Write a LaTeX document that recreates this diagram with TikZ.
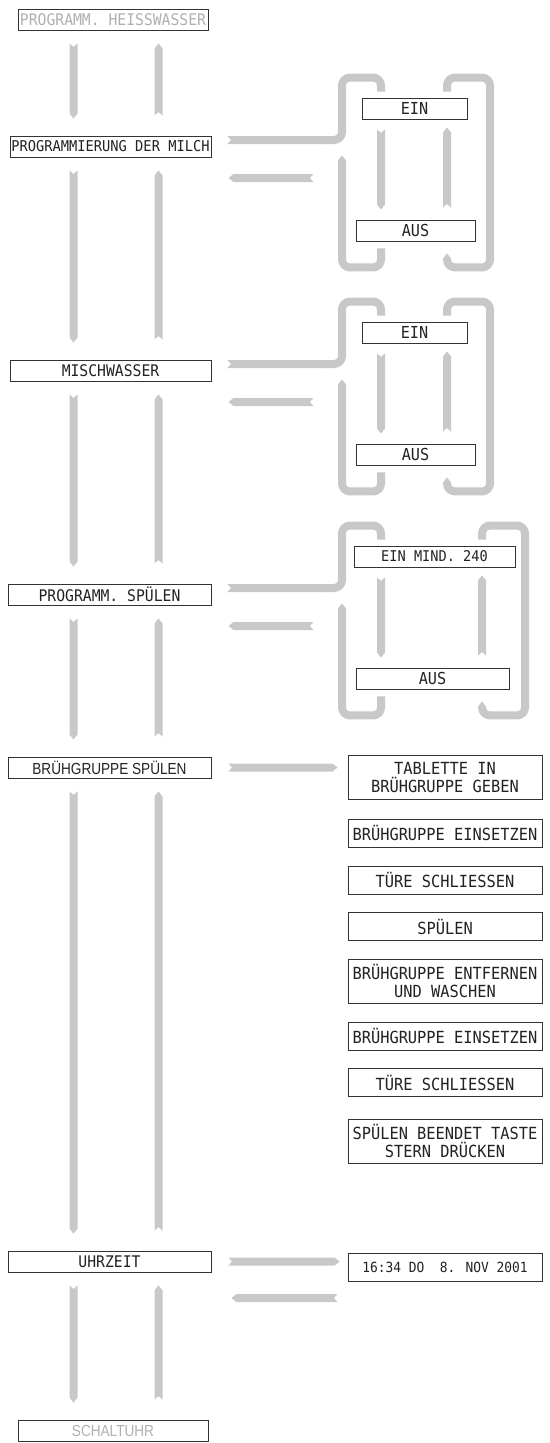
\documentclass[tikz,border=0pt]{standalone}
\usepackage{fontspec}
\newfontfamily\monof[FakeStretch=0.92]{DejaVu Sans Mono}
\newfontfamily\propf[FakeStretch=0.85]{Liberation Sans}
\usetikzlibrary{calc}
\definecolor{bandcol}{HTML}{C8C8C8}
\definecolor{txt}{HTML}{222222}
\definecolor{dimtxt}{HTML}{B0B0B0}
\definecolor{boxline}{HTML}{333333}
\tikzset{
 box/.style={draw=boxline, line width=0.9pt, fill=white, inner sep=0pt, align=center, text=txt},
 menubox/.style={box, minimum height=21pt, font=\monof\fontsize{16}{18.5}\selectfont},
 optbox/.style={box, minimum height=21pt, font=\monof\fontsize{16.5}{18.5}\selectfont},
 stepbox/.style={box, minimum width=194pt, minimum height=28pt, font=\monof\fontsize{16.7}{18.5}\selectfont},
 band/.style={draw=bandcol, line width=8pt, line cap=butt, line join=round, rounded corners=8pt},
}
% ribbon connector: #1 tail, #2 head (both given with parentheses), #3 tail type (n notch / f flat), #4 head type (p point / f flat)
\newcommand\ribbon[4]{%
  \path let \p1=#1, \p2=#2 in \pgfextra{%
    \pgfmathsetmacro\ribA{atan2((\y2)-(\y1),(\x2)-(\x1))}%
    \pgfmathsetmacro\ribL{veclen((\x2)-(\x1),(\y2)-(\y1))}%
    \xdef\ribA{\ribA}\xdef\ribL{\ribL}\xdef\ribX{\x1}\xdef\ribY{\y1}};%
  \if#3n\def\ribT{(0pt,4pt) -- (3.5pt,0pt) -- (0pt,-4pt)}\else\def\ribT{(0pt,4pt) -- (0pt,-4pt)}\fi
  \if#4p\def\ribH{-- (\ribL pt-5pt,-4pt) -- (\ribL pt,0pt) -- (\ribL pt-5pt,4pt) -- cycle}\else\def\ribH{-- (\ribL pt,-4pt) -- (\ribL pt,4pt) -- cycle}\fi
  \fill[bandcol, shift={(\ribX,\ribY)}, rotate=\ribA] \ribT \ribH;%
}
% column segment between two menu nodes
\newcommand\colseg[2]{%
  \ribbon{($(colL |- #1.south)+(0,13)$)}{($(colL |- #2.north)+(0,-17)$)}{n}{p}%
  \ribbon{($(colR |- #2.north)+(0,-20)$)}{($(colR |- #1.south)+(0,13)$)}{n}{p}%
}
% sub-panel: #1 source, #2 upper option, #3 lower option, #4 inner right x, #5 outer right x
\newcommand\subpanel[5]{%
  \ribbon{($(#1.east)+(16,-6.5)$)}{($(#1.east)+(110,-6.5)$)}{n}{f}%
  \draw[band] ($(#1.east)+(109,-6.5)$) -- ($(xL |- #1.east)+(0,-6.5)$) -- ($(xL |- #2.north)+(0,-20)$) -- ($(xIL |- #2.north)+(0,-20)$) -- ($(xIL |- #2.north)+(0,-6)$);%
  \draw[band] ($(#4 |- #2.north)+(0,-6)$) -- ($(#4 |- #2.north)+(0,-20)$) -- ($(#5 |- #2.north)+(0,-20)$) -- ($(#5 |- #3.south)+(0,26)$) -- ($(#4 |- #3.south)+(0,26)$) -- ($(#4 |- #3.south)+(0,17)$);%
  \ribbon{($(#4 |- #3.south)+(0,17.5)$)}{($(#4 |- #3.south)+(0,12)$)}{f}{p}%
  \draw[band] ($(xIL |- #3.south)+(0,7)$) -- ($(xIL |- #3.south)+(0,26)$) -- ($(xL |- #3.south)+(0,26)$) -- ($(xL |- #1.south)+(0,3)$);%
  \ribbon{($(xL |- #1.south)+(0,3.5)$)}{($(xL |- #1.south)+(0,-2)$)}{f}{p}%
  \ribbon{($(xIL |- #2.south)+(0,10)$)}{($(xIL |- #3.north)+(0,-10)$)}{n}{p}%
  \ribbon{($(#4 |- #3.north)+(0,-12)$)}{($(#4 |- #2.south)+(0,8)$)}{n}{p}%
  \ribbon{($(#1.east)+(102,31.5)$)}{($(#1.east)+(17,31.5)$)}{n}{p}%
}
\begin{document}
\begin{tikzpicture}[x=1pt,y=-1pt]
\useasboundingbox (0,0) rectangle (549,1443);
\coordinate (colL) at (73.5,0);
\coordinate (colR) at (158.5,0);
\coordinate (xL) at (342,0);
\coordinate (xIL) at (381,0);
\coordinate (xIR) at (447,0);
\coordinate (xOR) at (490,0);
\coordinate (xIRc) at (482,0);
\coordinate (xORc) at (525,0);

% main menu column
\node[menubox, minimum width=190pt, text=dimtxt] (heiss) at (113,19.5) {PROGRAMM. HEISSWASSER};
\node[menubox, minimum width=201pt, font=\monof\fontsize{14.9}{18.5}\selectfont] (milch) at (110.5,146.5) {PROGRAMMIERUNG DER MILCH};
\node[menubox, minimum width=201pt] (misch) at (110.5,370.5) {MISCHWASSER};
\node[menubox, minimum width=203pt] (spuel) at (109.5,594.5) {PROGRAMM. SPÜLEN};
\node[menubox, minimum width=203pt, font=\propf\fontsize{16}{18.5}\selectfont] (brueh) at (109.5,767.5) {BRÜHGRUPPE SPÜLEN};
\node[menubox, minimum width=203pt] (uhr) at (109.5,1261.5) {UHRZEIT};
\node[menubox, minimum width=190pt, text=dimtxt, font=\propf\fontsize{16}{18.5}\selectfont] (schalt) at (113,1430.5) {SCHALTUHR};

% options
\node[optbox, minimum width=105pt] (ein1) at (414.5,108.5) {EIN};
\node[optbox, minimum width=119pt] (aus1) at (415.5,230.5) {AUS};
\node[optbox, minimum width=105pt] (ein2) at (414.5,332.5) {EIN};
\node[optbox, minimum width=119pt] (aus2) at (415.5,454.5) {AUS};
\node[optbox, minimum width=161pt, font=\monof\fontsize{14.8}{18.5}\selectfont] (ein3) at (434.5,556.5) {EIN MIND. 240};
\node[optbox, minimum width=153pt] (aus3) at (432.5,678.5) {AUS};

% rinse steps
\node[stepbox, minimum height=44pt] (st1) at (445,777.5) {TABLETTE IN\\BRÜHGRUPPE GEBEN};
\node[stepbox] (st2) at (445,833) {BRÜHGRUPPE EINSETZEN};
\node[stepbox] (st3) at (445,880) {TÜRE SCHLIESSEN};
\node[stepbox] (st4) at (445,926.5) {SPÜLEN};
\node[stepbox, minimum height=44pt] (st5) at (445,981) {BRÜHGRUPPE ENTFERNEN\\UND WASCHEN};
\node[stepbox] (st6) at (445,1036) {BRÜHGRUPPE EINSETZEN};
\node[stepbox] (st7) at (445,1082.5) {TÜRE SCHLIESSEN};
\node[stepbox, minimum height=44pt] (st8) at (445,1141) {SPÜLEN BEENDET TASTE\\STERN DRÜCKEN};
\node[stepbox, font=\monof\fontsize{14}{18.5}\selectfont] (date) at (445,1267) {16:34 DO\ \ 8. NOV 2001};

% column connectors
\colseg{heiss}{milch}
\colseg{milch}{misch}
\colseg{misch}{spuel}
\colseg{spuel}{brueh}
\colseg{brueh}{uhr}
\colseg{uhr}{schalt}

% sub-panels
\subpanel{milch}{ein1}{aus1}{xIR}{xOR}
\subpanel{misch}{ein2}{aus2}{xIR}{xOR}
\subpanel{spuel}{ein3}{aus3}{xIRc}{xORc}

% side connectors
\ribbon{($(brueh.east)+(17,0)$)}{($(brueh.east -| st1.west)+(-10,0)$)}{n}{p}
\ribbon{($(uhr.east)+(17,0)$)}{($(uhr.east -| date.west)+(-8,0)$)}{n}{p}
\ribbon{($(uhr.east)+(126,36.5)$)}{($(uhr.east)+(20,36.5)$)}{n}{p}
\end{tikzpicture}
\end{document}
